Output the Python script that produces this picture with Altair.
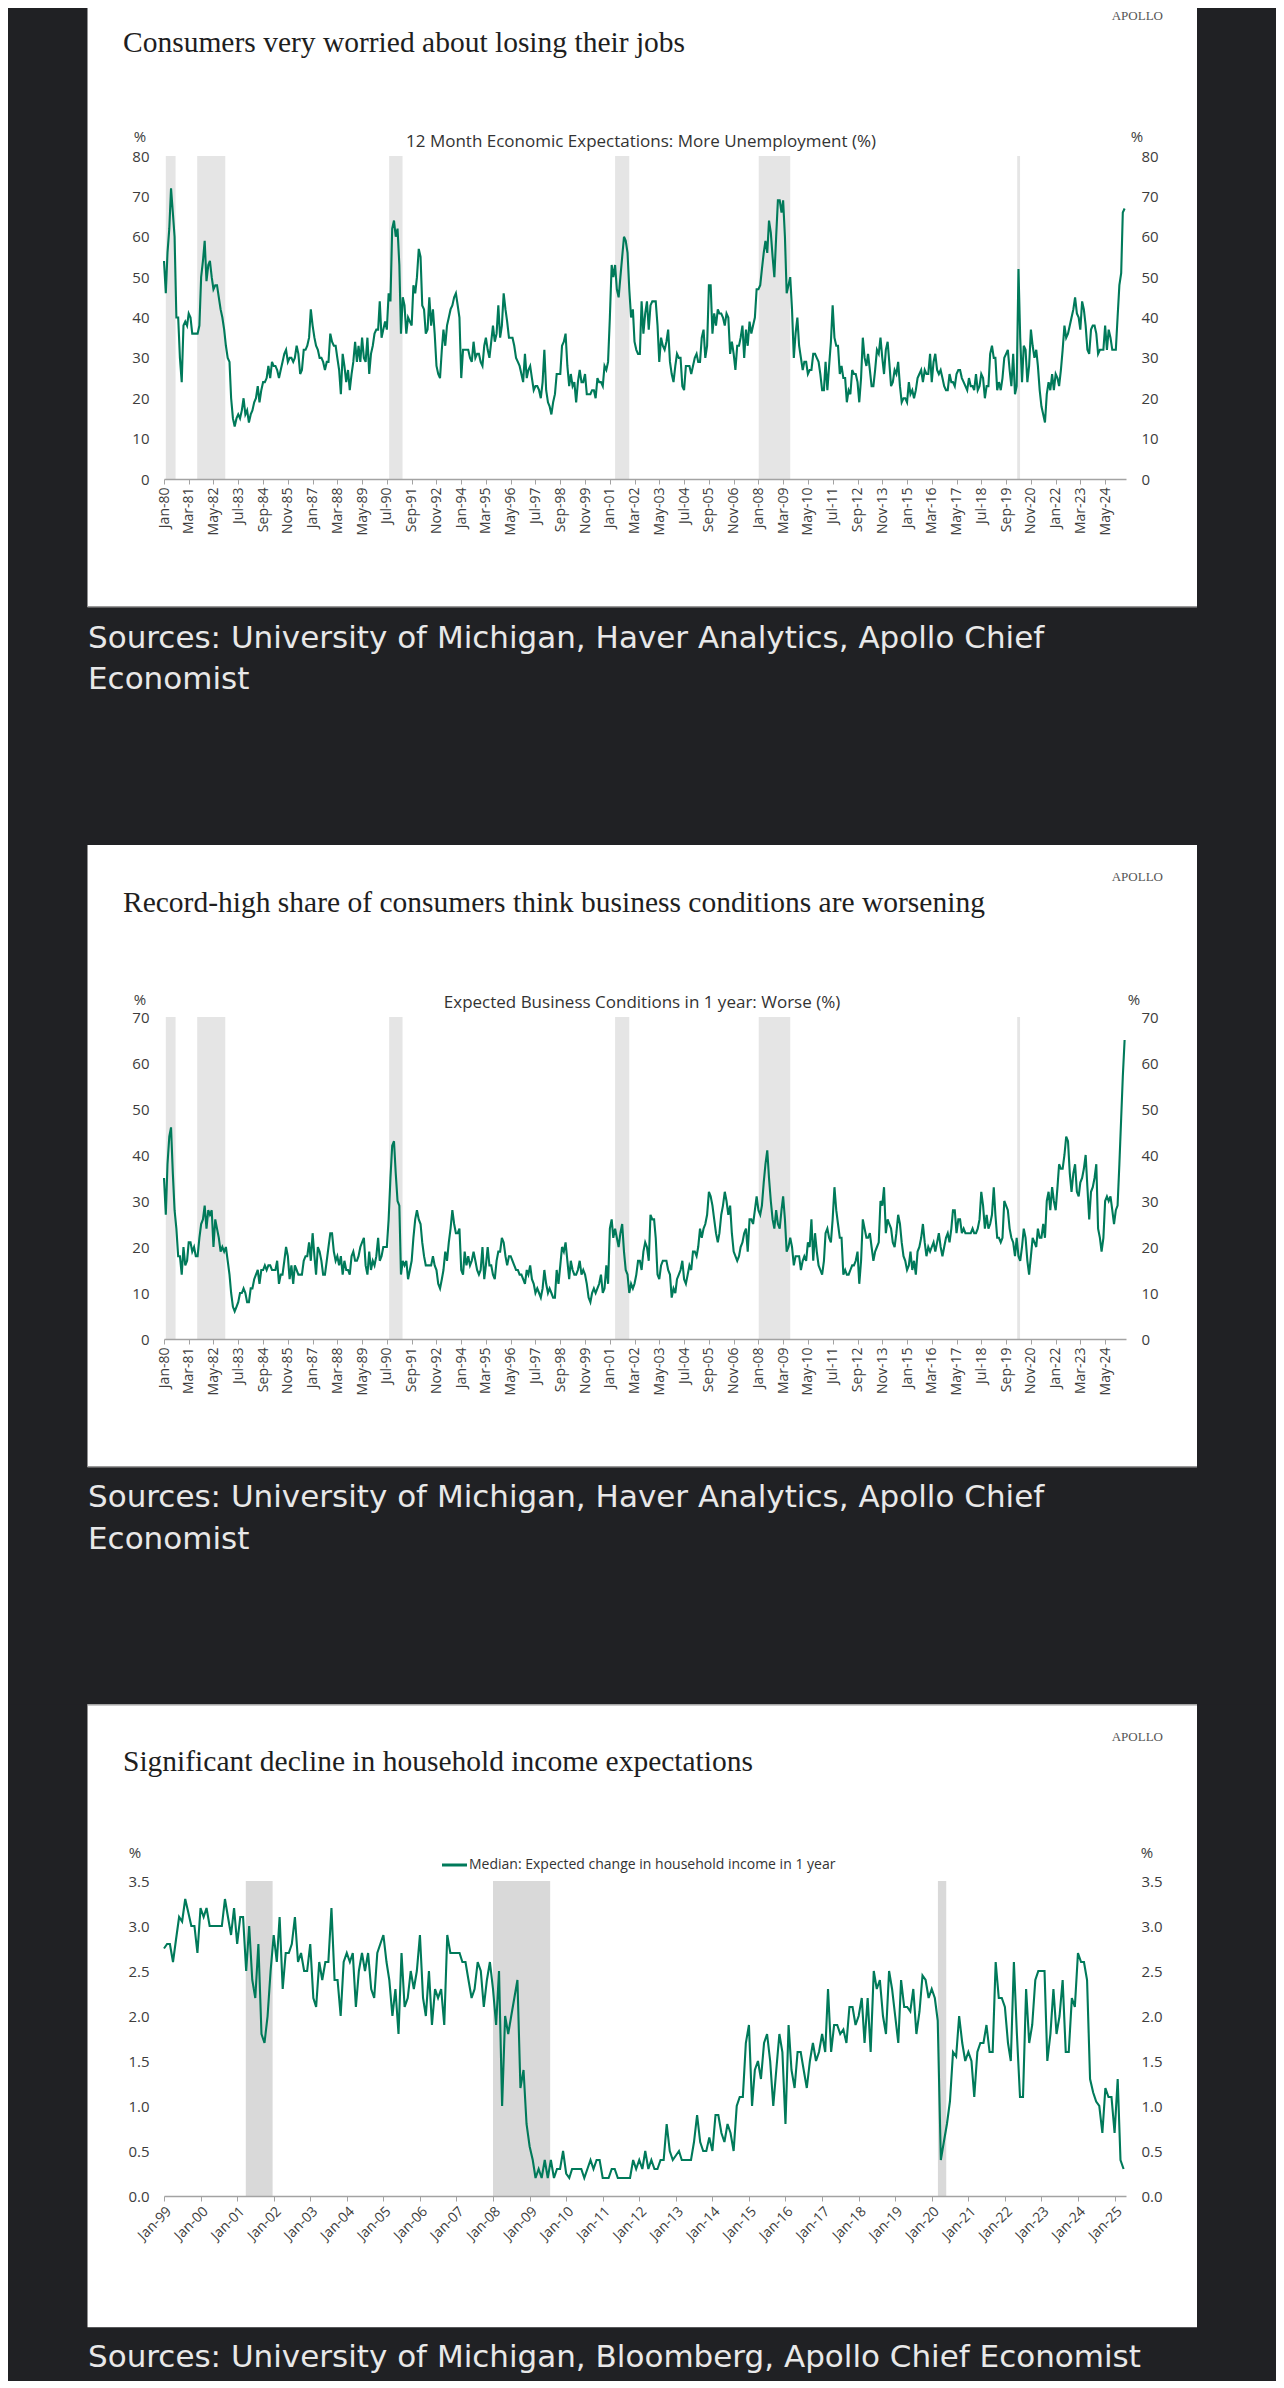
import altair as alt
import pandas as pd

BG = "#202124"
WHITE = "#ffffff"
GREEN = "#007a5a"
AXIS_GRAY = "#a3a3a3"
LABEL = "#3d3d3d"
SANS = "Open Sans"
SERIF = "Liberation Serif"
SRC_FONT = "DejaVu Sans"

# ---------------- data ----------------
jobs_start = "1980-01-01"
more_unemployment_pct = [
    54, 46, 56, 62, 72, 66, 60, 40, 40, 30, 24, 38,   # 1980
    39, 38, 41, 40, 36, 36, 36, 36, 38, 50, 54, 59,   # 1981
    49, 53, 54, 50, 47, 48, 48, 45, 42, 40, 37, 33,   # 1982
    30, 29, 20, 15, 13, 15, 16, 15, 17, 20, 16, 17,   # 1983
    14, 16, 17, 19, 20, 23, 19, 22, 24, 24, 25, 28,   # 1984
    25, 29, 28, 28, 27, 25, 27, 29, 31, 32, 29, 30,   # 1985
    30, 29, 30, 33, 31, 26, 27, 32, 32, 33, 35, 42,   # 1986
    38, 35, 33, 32, 30, 30, 29, 27, 29, 29, 36, 34,   # 1987
    33, 33, 30, 27, 21, 31, 28, 24, 27, 22, 26, 29,   # 1988
    34, 29, 33, 29, 35, 30, 29, 35, 26, 31, 33, 36,   # 1989
    37, 37, 44, 35, 37, 39, 37, 46, 44, 62, 64, 60,   # 1990
    62, 53, 36, 45, 43, 36, 40, 39, 38, 48, 46, 50,   # 1991
    57, 55, 43, 42, 36, 37, 45, 38, 42, 36, 28, 26,   # 1992
    25, 32, 37, 33, 38, 40, 42, 43, 45, 46, 43, 40,   # 1993
    25, 32, 32, 32, 32, 30, 29, 34, 30, 31, 31, 29,   # 1994
    28, 33, 35, 32, 30, 34, 38, 34, 36, 43, 35, 38,   # 1995
    46, 42, 39, 35, 35, 35, 33, 30, 29, 28, 26, 24,   # 1996
    31, 25, 27, 28, 25, 22, 23, 23, 22, 20, 24, 32,   # 1997
    22, 19, 18, 16, 19, 21, 26, 26, 26, 33, 34, 36,   # 1998
    28, 23, 26, 23, 24, 19, 24, 27, 24, 24, 26, 21,   # 1999
    21, 21, 22, 22, 20, 25, 24, 24, 23, 28, 27, 29,   # 2000
    40, 53, 50, 53, 47, 45, 50, 55, 60, 59, 56, 47,   # 2001
    40, 42, 34, 32, 31, 31, 44, 36, 41, 44, 37, 43,   # 2002
    44, 44, 44, 38, 29, 35, 33, 32, 34, 37, 29, 26,   # 2003
    24, 28, 31, 30, 30, 23, 22, 28, 28, 28, 26, 28,   # 2004
    30, 31, 29, 29, 35, 37, 30, 33, 48, 48, 36, 41,   # 2005
    38, 42, 41, 41, 40, 38, 41, 40, 31, 34, 31, 27,   # 2006
    33, 33, 35, 38, 30, 37, 33, 39, 36, 38, 40, 47,   # 2007
    47, 48, 52, 56, 59, 56, 64, 61, 55, 50, 60, 69,   # 2008
    69, 66, 69, 60, 46, 48, 50, 42, 30, 36, 40, 33,   # 2009
    30, 27, 29, 29, 26, 27, 27, 31, 31, 30, 29, 26,   # 2010
    22, 22, 29, 22, 28, 34, 43, 35, 33, 33, 26, 28,   # 2011
    25, 25, 19, 22, 21, 27, 26, 26, 24, 19, 25, 35,   # 2012
    30, 28, 31, 27, 23, 23, 27, 32, 31, 35, 30, 26,   # 2013
    32, 34, 29, 23, 24, 27, 26, 29, 23, 19, 20, 20,   # 2014
    19, 24, 21, 22, 20, 22, 25, 26, 27, 24, 27, 26,   # 2015
    26, 31, 24, 29, 31, 27, 26, 27, 25, 23, 22, 22,   # 2016
    26, 24, 24, 23, 26, 27, 27, 25, 24, 23, 22, 25,   # 2017
    23, 23, 22, 26, 22, 23, 26, 25, 20, 23, 23, 31,   # 2018
    33, 30, 30, 22, 24, 22, 25, 30, 31, 32, 27, 23,   # 2019
    31, 21, 23, 52, 35, 24, 33, 32, 24, 28, 37, 33,   # 2020
    30, 32, 28, 22, 18, 16, 14, 21, 24, 22, 26, 22,   # 2021
    26, 25, 23, 27, 32, 38, 35, 36, 38, 40, 42, 45,   # 2022
    41, 40, 37, 44, 42, 38, 32, 31, 37, 38, 38, 36,   # 2023
    31, 32, 32, 32, 38, 32, 37, 35, 32, 32, 32, 40,   # 2024
    48, 51, 66, 67,                                   # 2025
]

business_worse_pct = [
    35, 27, 38, 44, 46, 36, 28, 24, 18, 18, 14, 20,   # 1980
    16, 17, 21, 21, 19, 20, 18, 18, 22, 25, 26, 29,   # 1981
    24, 28, 27, 28, 20, 26, 24, 22, 19, 20, 19, 20,   # 1982
    17, 14, 10, 7, 6, 7, 8, 10, 10, 11, 10, 8,        # 1983
    8, 11, 11, 13, 14, 15, 12, 15, 15, 16, 15, 16,    # 1984
    16, 15, 15, 15, 17, 12, 14, 14, 17, 20, 18, 13,   # 1985
    16, 12, 16, 15, 14, 14, 14, 17, 18, 18, 21, 17,   # 1986
    23, 18, 14, 20, 19, 17, 14, 14, 17, 20, 23, 23,   # 1987
    19, 17, 18, 16, 18, 14, 17, 15, 15, 14, 18, 19,   # 1988
    17, 17, 18, 20, 21, 22, 16, 14, 19, 15, 17, 16,   # 1989
    18, 22, 17, 18, 20, 20, 20, 26, 35, 42, 43, 36,   # 1990
    30, 29, 14, 17, 16, 17, 13, 15, 17, 22, 26, 28,   # 1991
    26, 25, 21, 18, 16, 16, 16, 16, 18, 16, 15, 12,   # 1992
    11, 13, 15, 19, 17, 21, 24, 28, 25, 23, 23, 24,   # 1993
    15, 14, 19, 16, 18, 16, 17, 19, 17, 15, 14, 15,   # 1994
    20, 13, 16, 20, 16, 16, 14, 13, 17, 19, 19, 22,   # 1995
    21, 18, 16, 18, 18, 17, 16, 15, 15, 14, 14, 13,   # 1996
    12, 15, 14, 16, 13, 12, 10, 11, 10, 9, 11, 15,    # 1997
    12, 10, 11, 10, 9, 9, 15, 12, 16, 20, 19, 21,     # 1998
    17, 13, 17, 15, 14, 14, 15, 17, 14, 15, 14, 12,   # 1999
    9, 8, 10, 11, 10, 11, 12, 14, 10, 11, 16, 12,     # 2000
    24, 26, 22, 24, 22, 20, 23, 25, 19, 15, 14, 10,   # 2001
    12, 11, 12, 14, 17, 17, 15, 19, 21, 20, 17, 27,   # 2002
    26, 26, 22, 14, 13, 16, 17, 17, 17, 15, 14, 9,    # 2003
    11, 10, 13, 14, 15, 17, 13, 12, 14, 16, 15, 19,   # 2004
    19, 18, 20, 24, 22, 24, 25, 27, 32, 31, 29, 26,   # 2005
    23, 21, 23, 27, 29, 32, 30, 27, 29, 23, 19, 18,   # 2006
    17, 18, 20, 21, 23, 24, 19, 26, 26, 25, 28, 31,   # 2007
    28, 27, 29, 34, 38, 41, 35, 30, 26, 24, 28, 25,   # 2008
    24, 28, 31, 26, 19, 20, 22, 20, 16, 18, 18, 18,   # 2009
    15, 17, 18, 17, 21, 20, 26, 17, 23, 19, 16, 15,   # 2010
    14, 17, 23, 24, 22, 21, 26, 33, 28, 25, 22, 22,   # 2011
    14, 15, 14, 14, 15, 16, 16, 17, 19, 12, 17, 26,   # 2012
    24, 22, 22, 23, 20, 17, 19, 20, 21, 30, 29, 33,   # 2013
    23, 26, 25, 24, 21, 20, 23, 27, 25, 21, 18, 17,   # 2014
    15, 16, 19, 15, 17, 14, 19, 20, 22, 25, 21, 18,   # 2015
    20, 19, 20, 21, 19, 21, 23, 20, 18, 20, 22, 23,   # 2016
    21, 24, 28, 28, 23, 26, 26, 23, 24, 23, 23, 23,   # 2017
    23, 24, 23, 23, 24, 26, 32, 29, 24, 27, 24, 25,   # 2018
    27, 33, 27, 22, 22, 21, 22, 30, 29, 28, 24, 22,   # 2019
    21, 18, 22, 18, 17, 20, 24, 22, 17, 14, 18, 22,   # 2020
    21, 20, 24, 22, 22, 25, 22, 30, 32, 28, 33, 30,   # 2021
    28, 33, 38, 37, 37, 40, 44, 43, 36, 32, 36, 38,   # 2022
    32, 31, 34, 35, 37, 40, 33, 26, 32, 33, 35, 38,   # 2023
    24, 22, 19, 22, 30, 31, 30, 31, 28, 25, 28, 29,   # 2024
    38, 48, 57, 65,                                   # 2025
]

income_start = "1999-01-01"
income_median_pct = [
    2.75, 2.8, 2.8, 2.6, 2.85, 3.1, 3.05, 3.3, 3.15, 3.0, 3.0, 2.7,   # 1999
    3.2, 3.1, 3.2, 3.0, 3.0, 3.0, 3.0, 3.0, 3.3, 3.1, 2.9, 3.2,       # 2000
    2.8, 3.1, 3.1, 2.5, 3.0, 2.4, 2.2, 2.8, 1.8, 1.7, 2.0, 2.5,       # 2001
    2.9, 2.6, 3.1, 2.3, 2.7, 2.7, 2.8, 3.1, 2.6, 2.7, 2.5, 2.5,       # 2002
    2.8, 2.2, 2.1, 2.6, 2.4, 2.6, 2.6, 3.2, 2.4, 2.4, 2.0, 2.6,       # 2003
    2.7, 2.6, 2.7, 2.1, 2.5, 2.7, 2.5, 2.7, 2.3, 2.2, 2.7, 2.8,       # 2004
    2.9, 2.6, 2.4, 2.0, 2.3, 1.8, 2.7, 2.1, 2.2, 2.5, 2.3, 2.5,       # 2005
    2.9, 2.2, 2.0, 2.5, 1.9, 2.3, 2.2, 2.3, 1.9, 2.9, 2.7, 2.7,       # 2006
    2.7, 2.7, 2.6, 2.6, 2.4, 2.2, 2.3, 2.6, 2.5, 2.1, 2.4, 2.6,       # 2007
    2.3, 1.9, 2.5, 1.0, 2.0, 1.8, 2.0, 2.2, 2.4, 1.2, 1.4, 0.8,       # 2008
    0.55, 0.4, 0.2, 0.3, 0.2, 0.4, 0.2, 0.4, 0.2, 0.3, 0.3, 0.5,      # 2009
    0.25, 0.2, 0.3, 0.3, 0.3, 0.3, 0.2, 0.3, 0.4, 0.3, 0.4, 0.4,      # 2010
    0.2, 0.2, 0.2, 0.3, 0.3, 0.2, 0.2, 0.2, 0.2, 0.2, 0.4, 0.3,       # 2011
    0.4, 0.3, 0.5, 0.3, 0.4, 0.3, 0.3, 0.4, 0.4, 0.8, 0.5, 0.4,       # 2012
    0.45, 0.5, 0.4, 0.4, 0.4, 0.4, 0.6, 0.9, 0.6, 0.5, 0.5, 0.65,     # 2013
    0.5, 0.9, 0.9, 0.7, 0.6, 0.8, 0.7, 0.5, 1.0, 1.1, 1.1, 1.7,       # 2014
    1.9, 1.0, 1.4, 1.5, 1.3, 1.7, 1.8, 1.5, 1.0, 1.4, 1.8, 1.6,       # 2015
    0.8, 1.9, 1.4, 1.2, 1.6, 1.6, 1.4, 1.2, 1.5, 1.7, 1.5, 1.6,       # 2016
    1.8, 1.6, 2.3, 1.6, 1.9, 1.9, 1.8, 1.85, 1.7, 2.1, 2.1, 1.9,      # 2017
    2.0, 2.2, 1.7, 2.2, 1.6, 2.5, 2.3, 2.4, 2.0, 1.8, 2.5, 2.3,       # 2018
    2.0, 1.7, 2.4, 2.1, 2.1, 2.05, 2.3, 1.8, 2.05, 2.45, 2.4, 2.2,    # 2019
    2.3, 2.2, 1.95, 0.4, 0.6, 0.8, 1.05, 1.6, 1.55, 2.0, 1.7, 1.5,    # 2020
    1.6, 1.5, 1.1, 1.6, 1.7, 1.7, 1.9, 1.6, 1.6, 2.6, 2.2, 2.2,       # 2021
    2.1, 1.7, 1.5, 2.6, 1.8, 1.1, 1.1, 2.3, 1.7, 1.9, 2.4, 2.5,       # 2022
    2.5, 2.5, 1.5, 1.8, 2.3, 1.8, 2.0, 2.4, 1.6, 1.6, 2.2, 2.1,       # 2023
    2.7, 2.6, 2.6, 2.4, 1.3, 1.15, 1.05, 1.0, 0.7, 1.2, 1.1, 1.1,     # 2024
    0.7, 1.3, 0.4, 0.3,                                               # 2025
]

jobs_tick_labels = [
    "Jan-80", "Mar-81", "May-82", "Jul-83", "Sep-84", "Nov-85", "Jan-87",
    "Mar-88", "May-89", "Jul-90", "Sep-91", "Nov-92", "Jan-94", "Mar-95",
    "May-96", "Jul-97", "Sep-98", "Nov-99", "Jan-01", "Mar-02", "May-03",
    "Jul-04", "Sep-05", "Nov-06", "Jan-08", "Mar-09", "May-10", "Jul-11",
    "Sep-12", "Nov-13", "Jan-15", "Mar-16", "May-17", "Jul-18", "Sep-19",
    "Nov-20", "Jan-22", "Mar-23", "May-24",
]
income_tick_labels = [
    "Jan-99", "Jan-00", "Jan-01", "Jan-02", "Jan-03", "Jan-04", "Jan-05",
    "Jan-06", "Jan-07", "Jan-08", "Jan-09", "Jan-10", "Jan-11", "Jan-12",
    "Jan-13", "Jan-14", "Jan-15", "Jan-16", "Jan-17", "Jan-18", "Jan-19",
    "Jan-20", "Jan-21", "Jan-22", "Jan-23", "Jan-24", "Jan-25",
]

# recession shading (start, end) as drawn
jobs_recession_start = ["1980-02-01", "1981-07-25", "1990-08-10", "2001-04-01", "2008-01-06", "2020-03-10"]
jobs_recession_end = ["1980-07-18", "1982-11-20", "1991-03-28", "2001-12-01", "2009-07-01", "2020-04-28"]
income_recession_start = ["2001-03-28", "2008-01-01", "2020-03-03"]
income_recession_end = ["2001-12-21", "2009-07-25", "2020-05-25"]

jobs_y_ticks = [0, 10, 20, 30, 40, 50, 60, 70, 80]
business_y_ticks = [0, 10, 20, 30, 40, 50, 60, 70]
income_y_ticks = [0.0, 0.5, 1.0, 1.5, 2.0, 2.5, 3.0, 3.5]

# ---------------- helpers ----------------
PLOT_W = 962
RIGHT_EDGE = 1112   # keeps the drawing inside the 1284px window (8px page margins)


def monthly(start, values):
    return pd.DataFrame({"date": pd.date_range(start, periods=len(values), freq="MS"), "v": values})


def dt(d):
    return alt.DateTime(year=int(d.year), month=int(d.month), date=int(d.day))


def tick_dates(labels):
    return [dt(d) for d in pd.to_datetime(labels, format="%b-%y")]


def one_row(**kw):
    return pd.DataFrame({k: [v] for k, v in kw.items()})


def box(x, x2, y, y2, color):
    return alt.Chart(one_row(k=0)).mark_rect(color=color, strokeWidth=0).encode(
        x=alt.value(x), x2=alt.value(x2), y=alt.value(y), y2=alt.value(y2))


def label(text, x, y, size, font, color, align="left", baseline="middle"):
    return alt.Chart(one_row(t=text)).mark_text(
        align=align, baseline=baseline, font=font, fontSize=size, color=color
    ).encode(x=alt.value(x), y=alt.value(y), text="t:N")


def panel(df, rec_start, rec_end, xdomain, ticks, label_angle, yticks, yfmt,
          height, band_color, cell, white, title, title_y, apollo_y,
          pct_pos, extra_layers, sources):
    ymax = yticks[-1]
    xscale = alt.Scale(domain=[dt(pd.Timestamp(xdomain[0])), dt(pd.Timestamp(xdomain[1]))])
    yscale = alt.Scale(domain=[0, ymax], nice=False, zero=True)
    xaxis = alt.Axis(
        title=None, values=tick_dates(ticks), format="%b-%y", labelAngle=label_angle,
        labelFont=SANS, labelFontSize=14, labelColor=LABEL, domainColor=AXIS_GRAY,
        domainWidth=1.5, tickColor=AXIS_GRAY, tickSize=5, labelPadding=3,
        grid=False, labelOverlap=False, labelFlush=False, zindex=1,
    )

    def yaxis(orient):
        return alt.Axis(
            orient=orient, values=yticks, format=yfmt, title=None, domain=False,
            ticks=False, grid=False, labelPadding=15, labelFont=SANS,
            labelFontSize=15, labelColor=LABEL, zindex=1,
        )

    bands_df = pd.DataFrame({"start": pd.to_datetime(rec_start), "end": pd.to_datetime(rec_end)})
    bands = alt.Chart(bands_df).mark_rect(color=band_color).encode(
        x=alt.X("start:T", scale=xscale, axis=xaxis),
        x2="end:T",
        y=alt.YDatum(0, scale=yscale, axis=None),
        y2=alt.Y2Datum(ymax),
    )
    line = alt.Chart(df).mark_line(color=GREEN, strokeWidth=2.1).encode(
        x=alt.X("date:T", scale=xscale, axis=xaxis),
        y=alt.Y("v:Q", scale=yscale, axis=yaxis("left")),
    )
    line_r = alt.Chart(df).mark_line(opacity=0).encode(
        x=alt.X("date:T", scale=xscale, axis=xaxis),
        y=alt.Y("v:Q", scale=yscale, axis=yaxis("right")),
    )

    layers = [
        box(-156, RIGHT_EDGE, cell[0], cell[1], BG),
        box(-76.5, 1033, white[0], white[1], WHITE),
        bands,
        line,
        line_r,
        label("APOLLO", 999, apollo_y, 13, SERIF, "#555555", align="right"),
        label(title, -41, title_y, 29.5, SERIF, "#1e1e1e", baseline="alphabetic"),
        label("%", pct_pos[0], pct_pos[2], 15, SANS, LABEL, align="center"),
        label("%", pct_pos[1], pct_pos[2], 15, SANS, LABEL, align="center"),
    ] + extra_layers
    for text, y in sources:
        layers.append(label(text, -76, y, 31, SRC_FONT, "#e8e8e8"))

    return alt.layer(*layers).resolve_scale(y="independent").properties(width=PLOT_W, height=height)


jobs_df = monthly(jobs_start, more_unemployment_pct)
biz_df = monthly(jobs_start, business_worse_pct)
inc_df = monthly(income_start, income_median_pct)

p1 = panel(
    jobs_df, jobs_recession_start, jobs_recession_end, ("1980-01-01", "2025-04-25"),
    jobs_tick_labels, 270, jobs_y_ticks, "d", 323, "#e5e5e5",
    cell=(-148, 689), white=(-148, 451),
    title="Consumers very worried about losing their jobs", title_y=-104, apollo_y=-140,
    pct_pos=(-24, 973, -19),
    extra_layers=[label("12 Month Economic Expectations: More Unemployment (%)", 477, -14, 17, SANS, "#333333", align="center"),
                  box(-76.5, 1033, 450, 451.5, "#9a9a9a")],
    sources=[("Sources: University of Michigan, Haver Analytics, Apollo Chief", 483),
             ("Economist", 524)],
)

p2 = panel(
    biz_df, jobs_recession_start, jobs_recession_end, ("1980-01-01", "2025-04-25"),
    jobs_tick_labels, 270, business_y_ticks, "d", 322, "#e5e5e5",
    cell=(-172, 687), white=(-172, 450),
    title="Record-high share of consumers think business conditions are worsening", title_y=-105, apollo_y=-140,
    pct_pos=(-24, 970, -17),
    extra_layers=[label("Expected Business Conditions in 1 year: Worse (%)", 478, -14, 17, SANS, "#333333", align="center"),
                  box(-76.5, 1033, 449, 450.5, "#9a9a9a")],
    sources=[("Sources: University of Michigan, Haver Analytics, Apollo Chief", 481),
             ("Economist", 523)],
)

legend_line = alt.Chart(one_row(k=0)).mark_rule(color=GREEN, strokeWidth=3).encode(
    x=alt.value(278), x2=alt.value(303), y=alt.value(-16))

p3 = panel(
    inc_df, income_recession_start, income_recession_end, ("1999-01-01", "2025-04-25"),
    income_tick_labels, 315, income_y_ticks, ".1f", 315, "#d9d9d9",
    cell=(-176.7, 499.3), white=(-176.7, 446.3),
    title="Significant decline in household income expectations", title_y=-110, apollo_y=-144,
    pct_pos=(-29, 983, -28),
    extra_layers=[legend_line,
                  label("Median: Expected change in household income in 1 year", 305, -16, 14, SANS, "#333333"),
                  box(-76.5, 1033, -176.7, -175.5, "#9a9a9a")],
    sources=[("Sources: University of Michigan, Bloomberg, Apollo Chief Economist", 477)],
)

chart = alt.vconcat(p1, p2, p3, spacing=0).properties(padding=0).configure(
    background=BG
).configure_view(stroke=None)

chart.save("out.html", embed_options={"renderer": "svg", "actions": False})
